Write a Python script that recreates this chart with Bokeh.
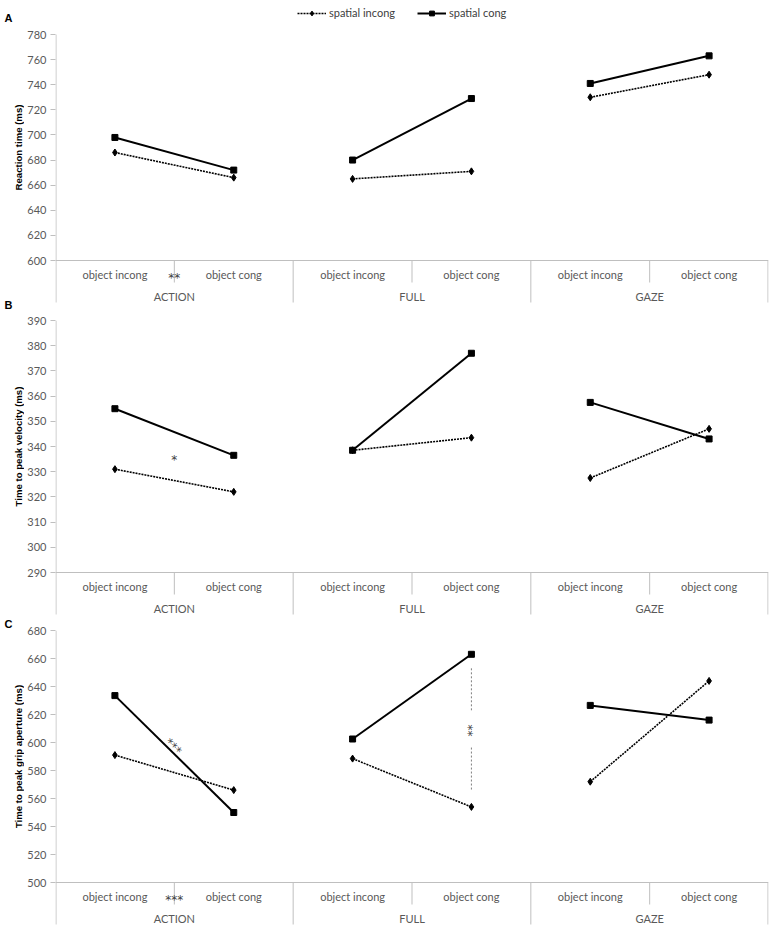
import math
from bokeh.plotting import figure
from bokeh.models import FactorRange, Range1d, FixedTicker, Span, Legend, LegendItem
from bokeh.layouts import column, row
from bokeh.embed import file_html
from bokeh.resources import INLINE
from bokeh.core.properties import value

# ---------------- data ----------------
groups = ["ACTION", "FULL", "GAZE"]
conditions = ["object incong", "object cong"]
series_names = ["spatial incong", "spatial cong"]

rt_incong = [686, 666, 665, 671, 730, 748]
rt_cong = [698, 672, 680, 729, 741, 763]
pv_incong = [331, 322, 338.5, 343.5, 327.5, 347]
pv_cong = [355, 336.5, 338.5, 377, 357.5, 343]
ga_incong = [591, 566, 588.5, 554, 572, 644]
ga_cong = [633.5, 550, 602.5, 663, 626.5, 616]

y_titles = ["Reaction time (ms)", "Time to peak velocity (ms)", "Time to peak grip aperture (ms)"]
panel_letters = ["A", "B", "C"]
y_min = [600, 290, 500]
y_max = [780, 390, 680]
y_step = [20, 10, 20]

# ---------------- layout ----------------
G = 24                      # left gutter (letters + axis titles)
BL, BR = 30, 2
FRAME_W = 714
W = BL + FRAME_W + BR
# (frame_top_border, pad_above_plot, plot_px, below_px, letter_dy)
geom = [(3, 31, 226, 44, 17), (16, 0, 252, 47, 16), (11, 0, 252, 48, 7)]
SUB_SEP, GRP_SEP = 22, 42
SUB_ROW, GRP_ROW = 14, 36

GRAY = "#bfbfbf"
TXT = "#595959"
factors = [(g, c) for g in groups for c in conditions]
n = len(factors)
xppu = FRAME_W / n


def make_panel(i, incong, cong):
    bt, pad, plot_px, below_px, _ = geom[i]
    ymin, ymax = y_min[i], y_max[i]
    upp = (ymax - ymin) / plot_px
    y_lo = ymin - below_px * upp
    y_hi = ymax + pad * upp
    x_range = FactorRange(*factors, factor_padding=0, subgroup_padding=0,
                          group_padding=0, range_padding=0)
    p = figure(x_range=x_range, y_range=Range1d(y_lo, y_hi), width=W,
               height=bt + pad + plot_px + below_px, output_backend="svg",
               toolbar_location=None, min_border_left=BL, min_border_right=BR,
               min_border_top=bt, min_border_bottom=0)
    p.xaxis.visible = False
    p.xgrid.visible = False
    p.ygrid.visible = False
    p.outline_line_color = None
    ax = p.yaxis[0]
    ax.ticker = FixedTicker(ticks=list(range(ymin, ymax + 1, y_step[i])))
    ax.axis_line_color = None
    ax.major_tick_line_color = GRAY
    ax.major_tick_out = 5
    ax.major_tick_in = 0
    ax.minor_tick_line_color = None
    ax.major_label_text_font = "Lato"
    ax.major_label_text_font_size = "11px"
    ax.major_label_text_color = TXT
    ax.major_label_standoff = 4

    # axis lines and category separators
    p.add_layout(Span(location=ymin, dimension="width", line_color=GRAY, line_width=1))
    sub_x, grp_x = [], [0.5 / xppu]
    for k in range(1, n):
        (grp_x if factors[k][0] != factors[k - 1][0] else sub_x).append(k)
    grp_x.append(n - 0.5 / xppu)
    p.segment(x0=[0.5 / xppu], y0=[ymin], x1=[0.5 / xppu], y1=[ymax],
              line_color=GRAY, line_width=1)
    p.segment(x0=sub_x, y0=[ymin] * len(sub_x), x1=sub_x,
              y1=[ymin - SUB_SEP * upp] * len(sub_x), line_color=GRAY, line_width=1)
    p.segment(x0=grp_x, y0=[ymin] * len(grp_x), x1=grp_x,
              y1=[ymin - GRP_SEP * upp] * len(grp_x), line_color=GRAY, line_width=1)
    p.text(x=factors, y=[ymin - SUB_ROW * upp] * n, text=[c for _, c in factors],
           text_align="center", text_baseline="middle", text_font=value("Lato"),
           text_font_size="11px", text_color=TXT)
    p.text(x=groups, y=[ymin - GRP_ROW * upp] * len(groups), text=groups,
           text_align="center", text_baseline="middle", text_font=value("Lato"),
           text_font_size="11px", text_color=TXT)

    # data
    r_inc_line = r_con_line = None
    for gi, g in enumerate(groups):
        xs = [(g, c) for c in conditions]
        a = p.line(xs, incong[2 * gi:2 * gi + 2], line_color="black", line_width=1.6,
                   line_dash="2 1")
        b = p.line(xs, cong[2 * gi:2 * gi + 2], line_color="black", line_width=2)
        if gi == 0:
            r_inc_line, r_con_line = a, b
    r_inc_pt = p.scatter(factors, incong, marker="diamond", size=7, color="black")
    r_con_pt = p.scatter(factors, cong, marker="square", size=6, color="black")
    return p, upp, (r_inc_line, r_inc_pt, r_con_line, r_con_pt)


pA, uA, rA = make_panel(0, rt_incong, rt_cong)
pB, uB, rB = make_panel(1, pv_incong, pv_cong)
pC, uC, rC = make_panel(2, ga_incong, ga_cong)

legend = Legend(items=[LegendItem(label=value(series_names[0]), renderers=[rA[0], rA[1]]),
                       LegendItem(label=value(series_names[1]), renderers=[rA[2], rA[3]])],
                orientation="horizontal", location=(242, 285), padding=0, margin=0,
                glyph_width=29, glyph_height=12, label_standoff=3, spacing=22,
                label_text_font="Lato", label_text_font_size="11px",
                label_text_color="#404040", background_fill_alpha=0,
                border_line_color=None)
pA.add_layout(legend)

STAR = "#404040"
star_kw = dict(text_align="center", text_baseline="middle", text_font=value("DejaVu Sans"),
               text_color=STAR)
# significance marks
pA.text(x=[1], y=[y_min[0] - (SUB_ROW + 3) * uA], text=["**"], text_font_size="12px", **star_kw)
pB.text(x=[1], y=[336 - 3 * uB], text=["*"], text_font_size="12px", **star_kw)
pC.text(x=[1], y=[y_min[2] - (SUB_ROW + 3) * uC], text=["***"], text_font_size="12px", **star_kw)
pC.text(x=[0.99], y=[597], text=["***"], angle=-math.pi / 4, text_font_size="12px", **star_kw)
pC.text(x=[("FULL", "object cong")], y=[608.6], text=["**"], angle=-math.pi / 2,
        x_offset=-3, text_font_size="12px", **star_kw)
pC.segment(x0=[("FULL", "object cong")] * 2, y0=[653, 596.4],
           x1=[("FULL", "object cong")] * 2, y1=[622.4, 565.7],
           line_color="#7f7f7f", line_width=1, line_dash="2 2")

# ---------------- left gutter: panel letters and axis titles ----------------
heights = [g[0] + g[1] + g[2] + g[3] for g in geom]
H = sum(heights)
gut = figure(width=G, height=H, x_range=Range1d(0, G), y_range=Range1d(H, 0),
             x_axis_type=None, y_axis_type=None, output_backend="svg", toolbar_location=None,
             min_border_left=0, min_border_right=0, min_border_top=0, min_border_bottom=0)
gut.outline_line_color = None
gut.xgrid.visible = False
gut.ygrid.visible = False
tops = [sum(heights[:k]) for k in range(3)]
plot_tops = [tops[k] + geom[k][0] + geom[k][1] for k in range(3)]
title_y = [plot_tops[k] + geom[k][2] / 2 for k in range(3)]
letter_y = [plot_tops[k] - geom[k][4] for k in range(3)]
gut.text(x=[18] * 3, y=title_y, text=y_titles, angle=math.pi / 2, text_align="center",
         text_baseline="middle", text_font=value("Liberation Sans"), text_font_style="bold",
         text_font_size="9.6px", text_color="black")
gut.text(x=[4] * 3, y=letter_y, text=panel_letters, text_align="left",
         text_baseline="middle", text_font=value("Liberation Sans"), text_font_style="bold",
         text_font_size="11px", text_color="black")

layout = row(gut, column(pA, pB, pC, spacing=0), spacing=0)
open("out.html", "w").write(file_html(layout, INLINE))
